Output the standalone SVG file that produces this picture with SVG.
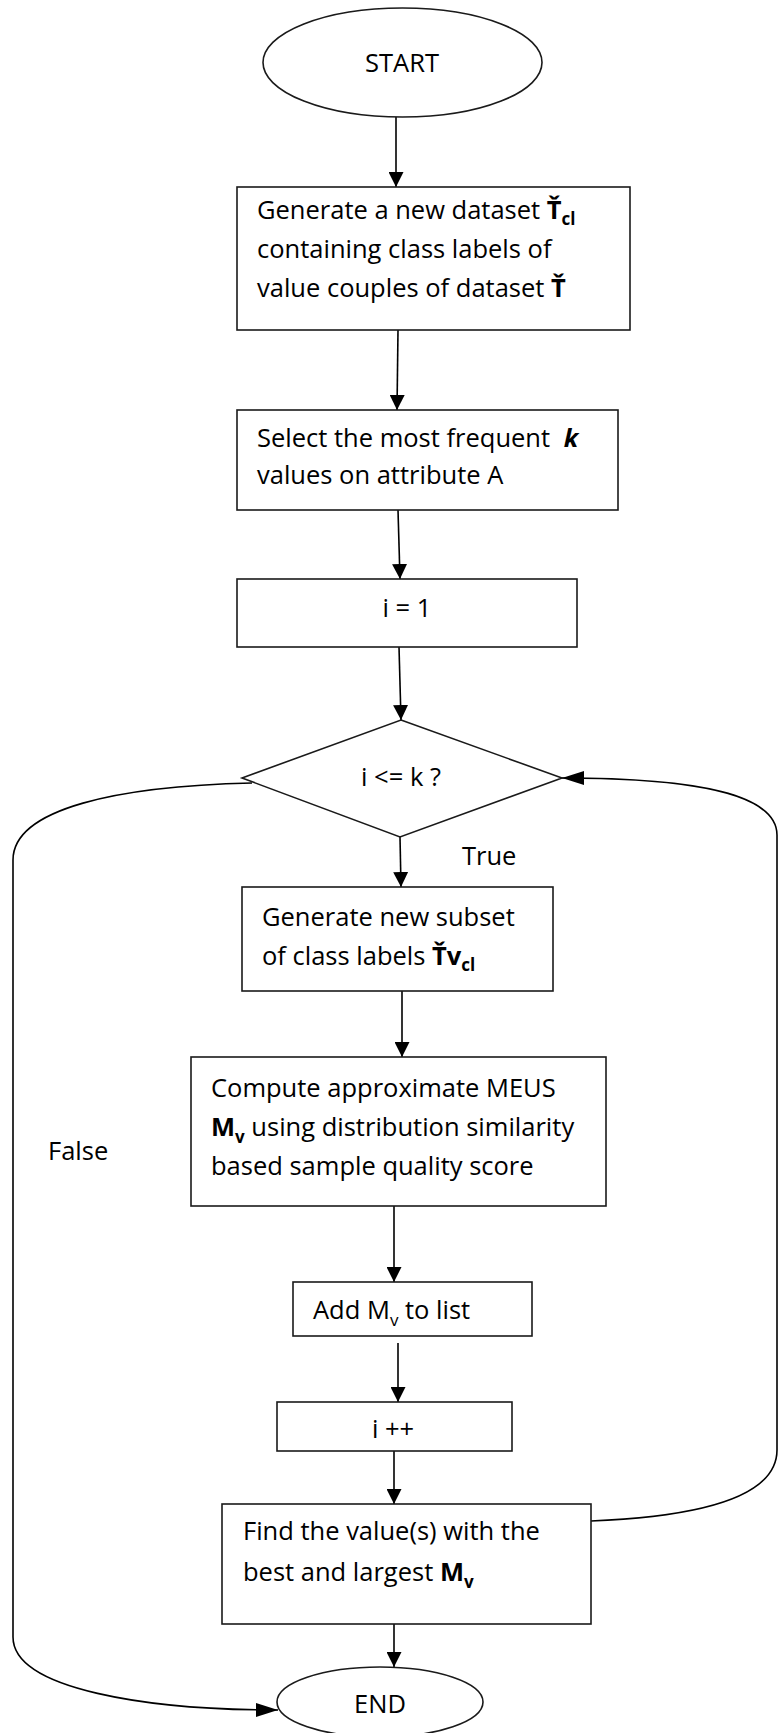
<svg xmlns="http://www.w3.org/2000/svg" width="779" height="1733" viewBox="0 0 779 1733">
<defs>
<style>
.n{fill:#fff;stroke:#1a1a1a;stroke-width:1.6}
.t{font-family:"Open Sans","Liberation Sans",sans-serif;font-size:25.5px;fill:#000}
.c{text-anchor:middle}
.b{font-weight:bold}
.s{font-size:17px}
.e{fill:none;stroke:#000;stroke-width:1.6}
</style>
<marker id="av" viewBox="0 0 15 15" markerWidth="15" markerHeight="15" refX="15" refY="7.5" orient="auto" markerUnits="userSpaceOnUse"><path d="M0,0 L15,7.5 L0,15 z" fill="#000"/></marker>
<marker id="ah" viewBox="0 0 22 14" markerWidth="22" markerHeight="14" refX="22" refY="7" orient="auto" markerUnits="userSpaceOnUse"><path d="M0,0 L22,7 L0,14 z" fill="#000"/></marker>
</defs>
<rect x="0" y="0" width="779" height="1733" fill="#fff"/>

<g id="connectors">
<path class="e" d="M396,117 L396,187" marker-end="url(#av)"/>
<path class="e" d="M398,330 L397,410" marker-end="url(#av)"/>
<path class="e" d="M398,510 L400,579" marker-end="url(#av)"/>
<path class="e" d="M399,647 L401,720" marker-end="url(#av)"/>
<path class="e" d="M400,837 L401,887" marker-end="url(#av)"/>
<path class="e" d="M402,991 L402,1057" marker-end="url(#av)"/>
<path class="e" d="M394,1206 L394,1282" marker-end="url(#av)"/>
<path class="e" d="M398,1343 L398,1402" marker-end="url(#av)"/>
<path class="e" d="M394,1451 L394,1504" marker-end="url(#av)"/>
<path class="e" d="M394,1624 L394,1667" marker-end="url(#av)"/>
<path class="e" d="M252,783 C120,786 13,808 13,860 L13,1637 C13,1690 150,1710 278,1710" marker-end="url(#ah)"/>
<path class="e" d="M591,1521 C690,1517 777,1500 777,1450 L777,835 C777,795 700,778 562,778" marker-end="url(#ah)"/>
</g>

<g id="start">
<ellipse class="n" cx="402.5" cy="62.5" rx="139.5" ry="54.5"/>
<text class="t c" x="402" y="72">START</text>
</g>

<g id="gen-dataset">
<rect class="n" x="237" y="187" width="393" height="143"/>
<text class="t" x="257" y="219">Generate a new dataset <tspan class="b">Ť</tspan><tspan class="b s" dy="6">cl</tspan></text>
<text class="t" x="257" y="258">containing class labels of</text>
<text class="t" x="257" y="297">value couples of dataset <tspan class="b">Ť</tspan></text>
</g>

<g id="select-k">
<rect class="n" x="237" y="410" width="381" height="100"/>
<text class="t" x="257" y="447">Select the most frequent <tspan class="b" font-style="italic" dx="7">k</tspan></text>
<text class="t" x="257" y="484">values on attribute A</text>
</g>

<g id="init-i">
<rect class="n" x="237" y="579" width="340" height="68"/>
<text class="t c" x="407" y="617">i = 1</text>
</g>

<g id="decision">
<polygon class="n" points="401,720 562,778 400,837 242,778"/>
<text class="t c" x="401" y="786">i &lt;= k ?</text>
</g>

<g id="label-true">
<text class="t" x="462" y="865">True</text>
</g>

<g id="label-false">
<text class="t" x="48" y="1160">False</text>
</g>

<g id="gen-subset">
<rect class="n" x="242" y="887" width="311" height="104"/>
<text class="t" x="262" y="926">Generate new subset</text>
<text class="t" x="262" y="965">of class labels <tspan class="b">Ťv</tspan><tspan class="b s" dy="6">cl</tspan></text>
</g>

<g id="compute">
<rect class="n" x="191" y="1057" width="415" height="149"/>
<text class="t" x="211" y="1097">Compute approximate MEUS</text>
<text class="t" x="211" y="1136"><tspan class="b">M</tspan><tspan class="b s" dy="7">v</tspan><tspan dy="-7"> using distribution similarity</tspan></text>
<text class="t" x="211" y="1175">based sample quality score</text>
</g>

<g id="add-list">
<rect class="n" x="293" y="1282" width="239" height="54"/>
<text class="t" x="313" y="1319">Add M<tspan class="s" dy="7">v</tspan><tspan dy="-7"> to list</tspan></text>
</g>

<g id="increment">
<rect class="n" x="277" y="1402" width="235" height="49"/>
<text class="t c" x="393" y="1438">i ++</text>
</g>

<g id="find-best">
<rect class="n" x="222" y="1504" width="369" height="120"/>
<text class="t" x="243" y="1540">Find the value(s) with the</text>
<text class="t" x="243" y="1581">best and largest <tspan class="b">M</tspan><tspan class="b s" dy="7">v</tspan></text>
</g>

<g id="end">
<ellipse class="n" cx="380" cy="1702" rx="103" ry="35"/>
<text class="t c" x="380" y="1713">END</text>
</g>
</svg>
